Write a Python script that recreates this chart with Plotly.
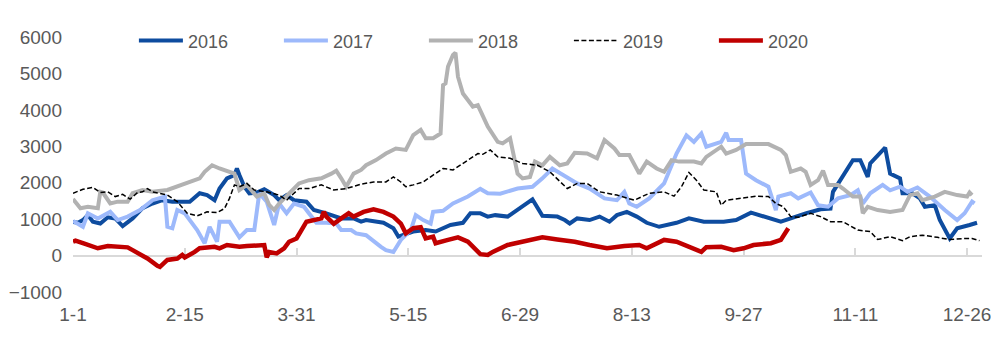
import plotly.graph_objects as go

# ---- data (day index from Jan 1) ----
tick_days = [0, 45, 90, 135, 180, 225, 270, 315, 360]
tick_text = ["1-1", "2-15", "3-31", "5-15", "6-29", "8-13", "9-27", "11-11", "12-26"]

days_2016 = [0, 2, 4, 6, 8, 11, 14, 17, 20, 24, 28, 32, 36, 40, 47, 51, 54, 57, 59, 62, 65, 66, 67, 69, 71,
             74, 77, 81, 83, 86, 89, 94, 97, 102, 108, 113, 116, 118, 125, 129, 131, 133, 137, 142, 146, 152,
             157, 160, 164, 167, 170, 175, 179, 181, 185, 189, 195, 198, 200, 203, 208, 212, 216, 219, 223,
             227, 231, 236, 243, 248, 254, 262, 267, 273, 278, 285, 289, 295, 301, 305, 306, 309, 314, 317,
             320, 321, 324, 327, 329, 333, 334, 338, 341, 343, 347, 349, 353, 356, 361, 364]
vals_2016 = [920, 900, 975, 1110, 930, 880, 1050, 1020, 810, 1020, 1300, 1430, 1520, 1480, 1480, 1710, 1660,
             1520, 1840, 2120, 2210, 2390, 2210, 1890, 1710, 1730, 1820, 1660, 1520, 1660, 1520, 1480, 1250,
             1160, 1020, 1020, 930, 975, 900, 750, 520, 560, 660, 700, 660, 840, 900, 1160, 1160, 1070, 1110,
             1070, 1270, 1340, 1540, 1090, 1070, 975, 880, 1020, 975, 1070, 930, 1110, 1200, 1070, 900, 790,
             900, 1020, 930, 930, 975, 1180, 1070, 930, 1020, 1160, 1270, 1290, 1750, 2070, 2620, 2620, 2160,
             2530, 2760, 2960, 2250, 2120, 1710, 1710, 1570, 1340, 1380, 975, 470, 750, 840, 900]

days_2017 = [0, 2, 4, 6, 10, 15, 18, 22, 27, 32, 37, 38, 40, 42, 45, 50, 53, 55, 58, 59, 63, 67, 70, 73, 75,
             78, 81, 83, 86, 89, 93, 95, 98, 102, 106, 108, 112, 114, 118, 124, 126, 129, 132, 136, 138, 141,
             144, 145, 149, 153, 159, 164, 167, 172, 179, 185, 189, 193, 199, 203, 208, 214, 219, 222, 224,
             227, 232, 238, 243, 247, 250, 253, 255, 261, 263, 264, 269, 271, 275, 280, 283, 284, 289, 292,
             297, 300, 304, 308, 313, 316, 318, 321, 326, 329, 333, 336, 340, 345, 351, 356, 359, 362, 363]
vals_2017 = [950, 880, 790, 1160, 1020, 1200, 975, 1070, 1250, 1520, 1620, 790, 750, 1250, 1160, 700, 340,
             790, 380, 930, 930, 500, 700, 700, 1710, 1480, 840, 1430, 1160, 1430, 1340, 1160, 900, 900, 880,
             700, 700, 610, 560, 240, 150, 100, 430, 700, 1110, 975, 880, 1200, 1230, 1430, 1620, 1830, 1710,
             1700, 1840, 1890, 2120, 2390, 2160, 1980, 1840, 1570, 1520, 1750, 1430, 1340, 1570, 1980, 2800,
             3300, 3120, 3350, 2990, 3120, 3370, 3170, 3170, 2250, 2070, 1890, 1250, 1620, 1710, 1570, 1730,
             1380, 1340, 1570, 1660, 1790, 1430, 1710, 1940, 1790, 1890, 1750, 1870, 1620, 1250, 975, 1160,
             1480, 1430]

days_2018 = [0, 3, 6, 10, 11, 12, 15, 18, 22, 24, 28, 32, 38, 44, 51, 53, 56, 59, 65, 67, 70, 74, 77, 79, 81,
             83, 87, 91, 95, 100, 104, 106, 108, 110, 113, 116, 118, 122, 126, 130, 134, 137, 140, 142, 145,
             148, 149, 150, 151, 153, 154, 155, 157, 159, 161, 163, 167, 171, 173, 176, 179, 181, 184, 186,
             189, 192, 196, 199, 202, 207, 211, 214, 218, 220, 224, 228, 231, 235, 238, 241, 244, 250, 253,
             255, 261, 263, 267, 271, 280, 285, 287, 289, 293, 295, 297, 300, 302, 304, 308, 310, 314, 317,
             318, 320, 324, 329, 334, 337, 340, 342, 347, 351, 356, 360, 361, 362]
vals_2018 = [1550, 1300, 1340, 1300, 1750, 1730, 1430, 1480, 1480, 1710, 1800, 1750, 1800, 1940, 2120, 2300,
             2480, 2390, 2250, 1800, 1940, 1620, 1710, 1390, 1250, 1430, 1710, 1980, 2070, 2120, 2250, 2330,
             2120, 1890, 2250, 2350, 2480, 2620, 2800, 2940, 2900, 3310, 3450, 3220, 3220, 3350, 4680, 4730,
             5190, 5510, 5570, 4910, 4450, 4270, 4090, 4130, 3540, 3120, 3080, 3220, 2250, 2120, 2160, 2580,
             2480, 2710, 2480, 2530, 2820, 2800, 2670, 3170, 2940, 2760, 2760, 2250, 2580, 2390, 2300, 2620,
             2580, 2580, 2530, 2710, 2990, 2800, 2900, 3060, 3060, 2900, 2760, 2300, 2390, 2300, 1940, 2070,
             2330, 1940, 1940, 1840, 1620, 1620, 1160, 1340, 1250, 1200, 1250, 1660, 1710, 1520, 1620, 1750,
             1660, 1620, 1730, 1660]

days_2019 = [0, 4, 8, 11, 14, 17, 20, 23, 26, 28, 30, 32, 38, 42, 46, 50, 54, 58, 61, 63, 65, 67, 70, 73, 78,
             83, 86, 89, 91, 95, 100, 105, 110, 116, 121, 126, 129, 132, 134, 137, 141, 145, 149, 153, 156,
             159, 163, 165, 168, 171, 176, 181, 187, 192, 199, 203, 207, 212, 219, 226, 232, 238, 242, 245,
             248, 251, 254, 259, 261, 263, 269, 275, 280, 283, 286, 289, 292, 297, 301, 305, 310, 316, 321,
             324, 329, 334, 337, 342, 348, 353, 359, 362, 365]
vals_2019 = [1710, 1820, 1870, 1730, 1750, 1620, 1680, 1550, 1730, 1750, 1840, 1750, 1660, 1480, 1160, 1090,
             1200, 1180, 1290, 1570, 1940, 1890, 1980, 1800, 1750, 1660, 1520, 1710, 1840, 1840, 1940, 1800,
             1840, 1960, 2020, 2020, 2160, 2020, 1890, 1940, 2020, 2210, 2390, 2350, 2480, 2620, 2800, 2780,
             2900, 2710, 2670, 2530, 2480, 2300, 1840, 1980, 1980, 1750, 1660, 1520, 1710, 1750, 1630, 1890,
             2280, 2070, 1800, 1750, 1380, 1520, 1570, 1630, 1620, 1430, 1340, 1070, 1050, 1160, 1070, 930,
             930, 700, 660, 440, 520, 410, 520, 560, 500, 440, 470, 470, 410]

days_2020 = [0, 1, 4, 10, 14, 22, 24, 30, 34, 35, 38, 42, 44, 45, 49, 51, 57, 59, 62, 67, 70, 77, 78, 79, 82,
             85, 87, 90, 92, 94, 100, 101, 102, 105, 108, 111, 113, 117, 121, 125, 129, 132, 134, 137, 140,
             142, 145, 146, 151, 155, 159, 161, 164, 167, 169, 175, 181, 189, 195, 202, 208, 215, 222, 228,
             231, 238, 243, 248, 253, 255, 261, 266, 270, 274, 281, 285, 287, 288]
vals_2020 = [380, 410, 340, 200, 260, 225, 150, -80, -280, -310, -120, -80, 15, -50, 100, 200, 240, 200, 290,
             240, 260, 290, -50, 100, 60, 200, 380, 470, 700, 930, 1020, 1200, 1070, 870, 1020, 1160, 1070,
             1200, 1270, 1200, 1070, 880, 610, 750, 780, 470, 520, 340, 430, 500, 380, 240, 40, 15, 100, 290,
             380, 500, 440, 380, 290, 200, 260, 290, 200, 430, 380, 240, 100, 230, 240, 150, 200, 290, 340,
             430, 610, 750]

x_range = [0, 366]
y_range = [-1000, 6000]
y_ticks = [-1000, 0, 1000, 2000, 3000, 4000, 5000, 6000]

series = [
    ("2016", days_2016, vals_2016, dict(color="#0E4C9F", width=4)),
    ("2017", days_2017, vals_2017, dict(color="#9DB9FB", width=4)),
    ("2018", days_2018, vals_2018, dict(color="#B2B2B2", width=4)),
    ("2019", days_2019, vals_2019, dict(color="#000000", width=1.5, dash="5px,2.5px")),
    ("2020", days_2020, vals_2020, dict(color="#C00000", width=4.5)),
]

fig = go.Figure()
for name, d, v, ln in series:
    fig.add_trace(go.Scatter(x=d, y=v, name=name, mode="lines", line=ln, hoverinfo="skip"))

# helper trace so the zero-line axis (with upward tick marks) is rendered
fig.add_trace(go.Scatter(x=x_range, y=[None, None], xaxis="x2", yaxis="y", mode="lines",
                         showlegend=False, hoverinfo="skip"))

tick_font = dict(family="Liberation Sans, Arial, sans-serif", size=19, color="#595959")

fig.update_layout(
    width=991, height=338,
    margin=dict(l=73, r=9, t=37, b=46),
    paper_bgcolor="white", plot_bgcolor="white",
    showlegend=True,
    legend=dict(orientation="h", x=0.067, xanchor="left", y=0.985, yanchor="middle",
                font=dict(family="Liberation Sans, Arial, sans-serif", size=18, color="#595959"),
                entrywidth=86, entrywidthmode="pixels", itemwidth=44,
                bgcolor="rgba(0,0,0,0)", traceorder="normal"),
    xaxis=dict(range=x_range, tickmode="array", tickvals=tick_days, ticktext=tick_text,
               showgrid=False, zeroline=False, showline=False, ticks="",
               tickfont=tick_font, ticklabelstandoff=9, ticklabeloverflow="allow",
               automargin=False),
    xaxis2=dict(range=x_range, overlaying="x", anchor="free", position=1 / 7, side="bottom",
                tickmode="array", tickvals=tick_days, showticklabels=False,
                ticks="inside", ticklen=7, tickwidth=2, tickcolor="#D9D9D9",
                showline=True, linecolor="#D9D9D9", linewidth=2, showgrid=False, zeroline=False,
                layer="below traces", automargin=False),
    yaxis=dict(range=y_range, tickmode="array", tickvals=y_ticks,
               showgrid=False, zeroline=False, showline=False, ticks="",
               tickfont=tick_font, ticklabelstandoff=10, automargin=False),
)

fig.write_html("out.html")
